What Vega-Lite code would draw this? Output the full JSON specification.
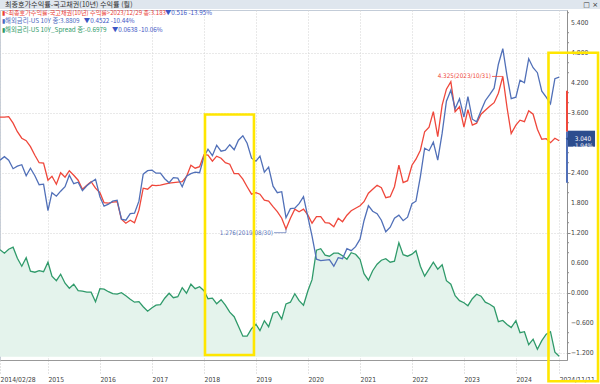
{
  "$schema": "https://vega.github.io/schema/vega-lite/v6.json",
  "width": 567,
  "height": 350,
  "padding": {"left": 0, "top": 10, "right": 33, "bottom": 24},
  "autosize": {"type": "none"},
  "background": "white",
  "config": {
    "view": {"stroke": "#c3ccd8", "strokeWidth": 1},
    "font": "Noto Sans CJK KR",
    "axis": {"labelOverlap": false, "labelBound": false, "labelFlush": false, "title": null}
  },
  "datasets": {
    "series": [
      {"d":"2014/02/28","kr":3.51,"us":2.65,"sp":0.86},
      {"d":"2014/03/31","kr":3.51,"us":2.72,"sp":0.79},
      {"d":"2014/04/30","kr":3.52,"us":2.65,"sp":0.87},
      {"d":"2014/05/31","kr":3.39,"us":2.48,"sp":0.91},
      {"d":"2014/06/30","kr":3.22,"us":2.53,"sp":0.69},
      {"d":"2014/07/31","kr":3.09,"us":2.56,"sp":0.53},
      {"d":"2014/08/31","kr":3.04,"us":2.34,"sp":0.70},
      {"d":"2014/09/30","kr":2.92,"us":2.49,"sp":0.43},
      {"d":"2014/10/31","kr":2.75,"us":2.34,"sp":0.41},
      {"d":"2014/11/30","kr":2.60,"us":2.16,"sp":0.44},
      {"d":"2014/12/31","kr":2.59,"us":2.17,"sp":0.42},
      {"d":"2015/01/31","kr":2.25,"us":1.64,"sp":0.61},
      {"d":"2015/02/28","kr":2.33,"us":2.00,"sp":0.33},
      {"d":"2015/03/31","kr":2.17,"us":1.93,"sp":0.24},
      {"d":"2015/04/30","kr":2.40,"us":2.03,"sp":0.37},
      {"d":"2015/05/31","kr":2.31,"us":2.12,"sp":0.19},
      {"d":"2015/06/30","kr":2.44,"us":2.35,"sp":0.09},
      {"d":"2015/07/31","kr":2.35,"us":2.18,"sp":0.17},
      {"d":"2015/08/31","kr":2.25,"us":2.21,"sp":0.04},
      {"d":"2015/09/30","kr":2.07,"us":2.04,"sp":0.03},
      {"d":"2015/10/31","kr":2.15,"us":2.14,"sp":0.01},
      {"d":"2015/11/30","kr":2.22,"us":2.21,"sp":0.01},
      {"d":"2015/12/31","kr":2.09,"us":2.27,"sp":-0.18},
      {"d":"2016/01/31","kr":2.00,"us":1.92,"sp":0.08},
      {"d":"2016/02/29","kr":1.80,"us":1.73,"sp":0.07},
      {"d":"2016/03/31","kr":1.79,"us":1.77,"sp":0.02},
      {"d":"2016/04/30","kr":1.81,"us":1.83,"sp":-0.02},
      {"d":"2016/05/31","kr":1.82,"us":1.85,"sp":-0.03},
      {"d":"2016/06/30","kr":1.47,"us":1.47,"sp":0.00},
      {"d":"2016/07/31","kr":1.39,"us":1.45,"sp":-0.06},
      {"d":"2016/08/31","kr":1.45,"us":1.58,"sp":-0.13},
      {"d":"2016/09/30","kr":1.40,"us":1.59,"sp":-0.19},
      {"d":"2016/10/31","kr":1.65,"us":1.83,"sp":-0.18},
      {"d":"2016/11/30","kr":2.09,"us":2.37,"sp":-0.28},
      {"d":"2016/12/31","kr":2.07,"us":2.44,"sp":-0.37},
      {"d":"2017/01/31","kr":2.15,"us":2.45,"sp":-0.30},
      {"d":"2017/02/28","kr":2.14,"us":2.39,"sp":-0.25},
      {"d":"2017/03/31","kr":2.15,"us":2.39,"sp":-0.24},
      {"d":"2017/04/30","kr":2.17,"us":2.28,"sp":-0.11},
      {"d":"2017/05/31","kr":2.19,"us":2.20,"sp":-0.01},
      {"d":"2017/06/30","kr":2.20,"us":2.30,"sp":-0.10},
      {"d":"2017/07/31","kr":2.21,"us":2.29,"sp":-0.08},
      {"d":"2017/08/31","kr":2.22,"us":2.12,"sp":0.10},
      {"d":"2017/09/30","kr":2.32,"us":2.33,"sp":-0.01},
      {"d":"2017/10/31","kr":2.55,"us":2.38,"sp":0.17},
      {"d":"2017/11/30","kr":2.49,"us":2.41,"sp":0.08},
      {"d":"2017/12/31","kr":2.52,"us":2.40,"sp":0.12},
      {"d":"2018/01/31","kr":2.76,"us":2.72,"sp":0.04},
      {"d":"2018/02/28","kr":2.75,"us":2.87,"sp":-0.12},
      {"d":"2018/03/31","kr":2.63,"us":2.74,"sp":-0.11},
      {"d":"2018/04/30","kr":2.73,"us":2.95,"sp":-0.22},
      {"d":"2018/05/31","kr":2.69,"us":2.83,"sp":-0.14},
      {"d":"2018/06/30","kr":2.60,"us":2.85,"sp":-0.25},
      {"d":"2018/07/31","kr":2.57,"us":2.96,"sp":-0.39},
      {"d":"2018/08/31","kr":2.38,"us":2.86,"sp":-0.48},
      {"d":"2018/09/30","kr":2.38,"us":3.05,"sp":-0.67},
      {"d":"2018/10/31","kr":2.27,"us":3.14,"sp":-0.87},
      {"d":"2018/11/30","kr":2.12,"us":2.99,"sp":-0.87},
      {"d":"2018/12/31","kr":1.97,"us":2.69,"sp":-0.72},
      {"d":"2019/01/31","kr":2.00,"us":2.63,"sp":-0.63},
      {"d":"2019/02/28","kr":1.97,"us":2.73,"sp":-0.76},
      {"d":"2019/03/31","kr":1.85,"us":2.41,"sp":-0.56},
      {"d":"2019/04/30","kr":1.83,"us":2.51,"sp":-0.68},
      {"d":"2019/05/31","kr":1.72,"us":2.13,"sp":-0.41},
      {"d":"2019/06/30","kr":1.62,"us":2.00,"sp":-0.38},
      {"d":"2019/07/31","kr":1.49,"us":2.02,"sp":-0.53},
      {"d":"2019/08/30","kr":1.276,"us":1.50,"sp":-0.224},
      {"d":"2019/09/30","kr":1.49,"us":1.68,"sp":-0.19},
      {"d":"2019/10/31","kr":1.67,"us":1.69,"sp":-0.02},
      {"d":"2019/11/30","kr":1.62,"us":1.78,"sp":-0.16},
      {"d":"2019/12/31","kr":1.67,"us":1.92,"sp":-0.25},
      {"d":"2020/01/31","kr":1.55,"us":1.51,"sp":0.04},
      {"d":"2020/02/29","kr":1.39,"us":1.13,"sp":0.26},
      {"d":"2020/03/31","kr":1.52,"us":0.67,"sp":0.85},
      {"d":"2020/04/30","kr":1.52,"us":0.64,"sp":0.88},
      {"d":"2020/05/31","kr":1.40,"us":0.65,"sp":0.75},
      {"d":"2020/06/30","kr":1.39,"us":0.66,"sp":0.73},
      {"d":"2020/07/31","kr":1.32,"us":0.53,"sp":0.79},
      {"d":"2020/08/31","kr":1.49,"us":0.70,"sp":0.79},
      {"d":"2020/09/30","kr":1.42,"us":0.68,"sp":0.74},
      {"d":"2020/10/31","kr":1.55,"us":0.88,"sp":0.67},
      {"d":"2020/11/30","kr":1.64,"us":0.84,"sp":0.80},
      {"d":"2020/12/31","kr":1.69,"us":0.92,"sp":0.77},
      {"d":"2021/01/31","kr":1.74,"us":1.07,"sp":0.67},
      {"d":"2021/02/28","kr":1.82,"us":1.44,"sp":0.38},
      {"d":"2021/03/31","kr":1.99,"us":1.74,"sp":0.25},
      {"d":"2021/04/30","kr":2.07,"us":1.63,"sp":0.44},
      {"d":"2021/05/31","kr":2.15,"us":1.58,"sp":0.57},
      {"d":"2021/06/30","kr":2.10,"us":1.45,"sp":0.65},
      {"d":"2021/07/31","kr":1.90,"us":1.22,"sp":0.68},
      {"d":"2021/08/31","kr":1.92,"us":1.31,"sp":0.61},
      {"d":"2021/09/30","kr":2.12,"us":1.49,"sp":0.63},
      {"d":"2021/10/31","kr":2.55,"us":1.55,"sp":1.00},
      {"d":"2021/11/30","kr":2.20,"us":1.44,"sp":0.76},
      {"d":"2021/12/31","kr":2.24,"us":1.51,"sp":0.73},
      {"d":"2022/01/31","kr":2.55,"us":1.78,"sp":0.77},
      {"d":"2022/02/28","kr":2.67,"us":1.83,"sp":0.84},
      {"d":"2022/03/31","kr":2.85,"us":2.32,"sp":0.53},
      {"d":"2022/04/30","kr":3.22,"us":2.89,"sp":0.33},
      {"d":"2022/05/31","kr":3.31,"us":2.84,"sp":0.47},
      {"d":"2022/06/30","kr":3.62,"us":3.01,"sp":0.61},
      {"d":"2022/07/31","kr":3.12,"us":2.65,"sp":0.47},
      {"d":"2022/08/31","kr":3.75,"us":3.19,"sp":0.56},
      {"d":"2022/09/30","kr":4.07,"us":3.83,"sp":0.24},
      {"d":"2022/10/31","kr":4.22,"us":4.05,"sp":0.17},
      {"d":"2022/11/30","kr":3.62,"us":3.68,"sp":-0.06},
      {"d":"2022/12/31","kr":3.72,"us":3.88,"sp":-0.16},
      {"d":"2023/01/31","kr":3.31,"us":3.51,"sp":-0.20},
      {"d":"2023/02/28","kr":3.66,"us":3.92,"sp":-0.26},
      {"d":"2023/03/31","kr":3.35,"us":3.47,"sp":-0.12},
      {"d":"2023/04/30","kr":3.39,"us":3.42,"sp":-0.03},
      {"d":"2023/05/31","kr":3.57,"us":3.64,"sp":-0.07},
      {"d":"2023/06/30","kr":3.65,"us":3.84,"sp":-0.19},
      {"d":"2023/07/31","kr":3.73,"us":3.96,"sp":-0.23},
      {"d":"2023/08/31","kr":3.80,"us":4.09,"sp":-0.29},
      {"d":"2023/09/30","kr":3.99,"us":4.57,"sp":-0.58},
      {"d":"2023/10/31","kr":4.325,"us":4.88,"sp":-0.555},
      {"d":"2023/11/30","kr":3.699,"us":4.3331,"sp":-0.6341},
      {"d":"2023/12/29","kr":3.183,"us":3.8809,"sp":-0.6979},
      {"d":"2024/01/31","kr":3.35,"us":3.91,"sp":-0.56},
      {"d":"2024/02/29","kr":3.45,"us":4.25,"sp":-0.80},
      {"d":"2024/03/31","kr":3.42,"us":4.20,"sp":-0.78},
      {"d":"2024/04/30","kr":3.64,"us":4.68,"sp":-1.04},
      {"d":"2024/05/31","kr":3.57,"us":4.50,"sp":-0.93},
      {"d":"2024/06/30","kr":3.27,"us":4.40,"sp":-1.13},
      {"d":"2024/07/31","kr":3.07,"us":4.03,"sp":-0.96},
      {"d":"2024/08/31","kr":3.08,"us":3.91,"sp":-0.83},
      {"d":"2024/09/30","kr":3.00,"us":3.78,"sp":-0.78},
      {"d":"2024/10/31","kr":3.09,"us":4.28,"sp":-1.19},
      {"d":"2024/11/30","kr":3.04,"us":4.31,"sp":-1.27}
    ]
  },
  "layer": [
    {
      "data": {"name": "series"},
      "mark": {"type": "area", "color": "#e4f3ec"},
      "encoding": {
        "x": {
          "field": "d", "type": "temporal", "title": null,
          "scale": {"domain": [{"year": 2014, "month": 2, "date": 28}, {"year": 2025, "month": 1, "date": 24}]},
          "axis": {
            "values": [
              {"year": 2014, "month": 2, "date": 28},
              {"year": 2015, "month": 1, "date": 31},
              {"year": 2016, "month": 1, "date": 31},
              {"year": 2017, "month": 1, "date": 31},
              {"year": 2018, "month": 1, "date": 31},
              {"year": 2019, "month": 1, "date": 31},
              {"year": 2020, "month": 1, "date": 31},
              {"year": 2021, "month": 1, "date": 31},
              {"year": 2022, "month": 1, "date": 31},
              {"year": 2023, "month": 1, "date": 31},
              {"year": 2024, "month": 1, "date": 31},
              {"year": 2024, "month": 11, "date": 30}
            ],
            "labelExpr": "datum.value < datetime(2014, 5, 1) ? '2014/02/28' : (datum.value > datetime(2024, 5, 1) ? '2024/11/11' : timeFormat(datum.value, '%Y'))",
            "labelAlign": "left",
            "labelBaseline": "top",
            "labelFlush": false,
            "labelOverlap": false,
            "labelBound": false,
            "labelOffset": 0,
            "labelPadding": 2,
            "labelFont": "Liberation Sans Narrow, DejaVu Sans Condensed, sans-serif",
            "labelFontSize": 6.8,
            "labelColor": "#444444",
            "tickSize": 14,
            "tickDash": [1, 2],
            "tickColor": "#c8c8c8",
            "grid": true,
            "gridDash": [1, 2],
            "gridColor": "#d2d2d2",
            "domainColor": "#999999"
          }
        },
        "y": {
          "field": "sp", "type": "quantitative", "title": null,
          "scale": {"domain": [-1.346, 5.654], "nice": false, "zero": false},
          "axis": {
            "orient": "right",
            "values": [-1.2, -0.6, 0, 0.6, 1.2, 1.8, 2.4, 3.0, 3.6, 4.2, 4.8, 5.4],
            "labels": false,
            "tickSize": 3,
            "gridDash": [1, 2],
            "gridColor": "#d2d2d2",
            "domainColor": "#8f8f8f",
            "tickColor": "#8f8f8f",
            "grid": true
          }
        },
        "y2": {"datum": -1.28}
      }
    },
    {"data": {"name": "series"}, "mark": {"type": "line", "color": "#2f9a6a", "strokeWidth": 1.3}, "encoding": {"x": {"field": "d", "type": "temporal"}, "y": {"field": "sp", "type": "quantitative"}}},
    {"data": {"name": "series"}, "mark": {"type": "line", "color": "#ef473b", "strokeWidth": 1.3}, "encoding": {"x": {"field": "d", "type": "temporal"}, "y": {"field": "kr", "type": "quantitative"}}},
    {"data": {"name": "series"}, "mark": {"type": "line", "color": "#5170b8", "strokeWidth": 1.3}, "encoding": {"x": {"field": "d", "type": "temporal"}, "y": {"field": "us", "type": "quantitative"}}},
    {
      "data": {"values": [
        {"t": "2025/01/24", "t2": "2025/02/07", "v": -1.0}, {"t": "2025/01/24", "t2": "2025/02/07", "v": -0.8},
        {"t": "2025/01/24", "t2": "2025/02/07", "v": -0.4}, {"t": "2025/01/24", "t2": "2025/02/07", "v": -0.2},
        {"t": "2025/01/24", "t2": "2025/02/07", "v": 0.2}, {"t": "2025/01/24", "t2": "2025/02/07", "v": 0.4},
        {"t": "2025/01/24", "t2": "2025/02/07", "v": 0.8}, {"t": "2025/01/24", "t2": "2025/02/07", "v": 1.0},
        {"t": "2025/01/24", "t2": "2025/02/07", "v": 1.4}, {"t": "2025/01/24", "t2": "2025/02/07", "v": 1.6},
        {"t": "2025/01/24", "t2": "2025/02/07", "v": 2.0}, {"t": "2025/01/24", "t2": "2025/02/07", "v": 2.2},
        {"t": "2025/01/24", "t2": "2025/02/07", "v": 2.6}, {"t": "2025/01/24", "t2": "2025/02/07", "v": 2.8},
        {"t": "2025/01/24", "t2": "2025/02/07", "v": 3.2}, {"t": "2025/01/24", "t2": "2025/02/07", "v": 3.4},
        {"t": "2025/01/24", "t2": "2025/02/07", "v": 3.8}, {"t": "2025/01/24", "t2": "2025/02/07", "v": 4.0},
        {"t": "2025/01/24", "t2": "2025/02/07", "v": 4.4}, {"t": "2025/01/24", "t2": "2025/02/07", "v": 4.6},
        {"t": "2025/01/24", "t2": "2025/02/07", "v": 5.0}, {"t": "2025/01/24", "t2": "2025/02/07", "v": 5.2},
        {"t": "2025/01/24", "t2": "2025/02/07", "v": 5.6}
      ]},
      "mark": {"type": "rule", "color": "#8f8f8f", "strokeWidth": 1},
      "encoding": {"x": {"field": "t", "type": "temporal"}, "x2": {"field": "t2"}, "y": {"field": "v", "type": "quantitative"}}
    },
    {
      "data": {"values": [
        {"t": "2025/01/24", "v": -1.2}, {"t": "2025/01/24", "v": -0.6}, {"t": "2025/01/24", "v": 0},
        {"t": "2025/01/24", "v": 0.6}, {"t": "2025/01/24", "v": 1.2}, {"t": "2025/01/24", "v": 1.8},
        {"t": "2025/01/24", "v": 2.4}, {"t": "2025/01/24", "v": 3.6},
        {"t": "2025/01/24", "v": 4.2}, {"t": "2025/01/24", "v": 4.8}, {"t": "2025/01/24", "v": 5.4}
      ]},
      "mark": {"type": "text", "align": "left", "baseline": "middle", "dx": 4, "fontSize": 6.8, "color": "#444444", "font": "Liberation Sans Narrow, DejaVu Sans Condensed, sans-serif"},
      "encoding": {"x": {"field": "t", "type": "temporal"}, "y": {"field": "v", "type": "quantitative"}, "text": {"field": "v", "type": "quantitative", "format": ".3f"}}
    },
    {
      "data": {"values": [{"t": "2014/02/28", "t2": "2025/10/31", "v": 5.854, "v2": 5.674}]},
      "mark": {"type": "rect", "color": "#dfe6ee"},
      "encoding": {"x": {"field": "t", "type": "temporal"}, "x2": {"field": "t2"}, "y": {"field": "v", "type": "quantitative"}, "y2": {"field": "v2"}}
    },
    {
      "data": {"values": [{"t": "2014/02/28", "v": 5.756, "label": "최종호가수익률-국고채권(10년) 수익률 (월)"}]},
      "mark": {"type": "text", "align": "left", "baseline": "middle", "dx": 5, "fontSize": 7.1, "color": "#333333"},
      "encoding": {"x": {"field": "t", "type": "temporal"}, "y": {"field": "v", "type": "quantitative"}, "text": {"field": "label"}}
    },
    {
      "data": {"values": [{"t": "2025/08/30", "v": 5.756, "label": "□ ×"}]},
      "mark": {"type": "text", "align": "right", "baseline": "middle", "fontSize": 7, "color": "#333333", "font": "DejaVu Sans"},
      "encoding": {"x": {"field": "t", "type": "temporal"}, "y": {"field": "v", "type": "quantitative"}, "text": {"field": "label"}}
    },
    {
      "data": {"values": [{"t": "2014/02/28", "v": 5.594, "label": "▮<최종호가수익률-국고채권(10년) 수익률>2023/12/29 종:3.183"}]},
      "mark": {"type": "text", "align": "left", "baseline": "middle", "dx": 2, "fontSize": 6.1, "color": "#ea4036"},
      "encoding": {"x": {"field": "t", "type": "temporal"}, "y": {"field": "v", "type": "quantitative"}, "text": {"field": "label"}}
    },
    {
      "data": {"values": [{"t": "2017/05/02", "v": 5.594, "label": "▼0.516  -13.95%"}]},
      "mark": {"type": "text", "align": "left", "baseline": "middle", "fontSize": 6.3, "color": "#3b55c4"},
      "encoding": {"x": {"field": "t", "type": "temporal"}, "y": {"field": "v", "type": "quantitative"}, "text": {"field": "label"}}
    },
    {
      "data": {"values": [{"t": "2014/02/28", "v": 5.434, "label": "▮해외금리-US 10Y 종:3.8809"}]},
      "mark": {"type": "text", "align": "left", "baseline": "middle", "dx": 2, "fontSize": 6.4, "color": "#4a68c0"},
      "encoding": {"x": {"field": "t", "type": "temporal"}, "y": {"field": "v", "type": "quantitative"}, "text": {"field": "label"}}
    },
    {
      "data": {"values": [{"t": "2015/10/10", "v": 5.434, "label": "▼0.4522  -10.44%"}]},
      "mark": {"type": "text", "align": "left", "baseline": "middle", "fontSize": 6.3, "color": "#3b55c4"},
      "encoding": {"x": {"field": "t", "type": "temporal"}, "y": {"field": "v", "type": "quantitative"}, "text": {"field": "label"}}
    },
    {
      "data": {"values": [{"t": "2014/02/28", "v": 5.264, "label": "▮해외금리-US 10Y_Spread 종:-0.6979"}]},
      "mark": {"type": "text", "align": "left", "baseline": "middle", "dx": 2, "fontSize": 6.4, "color": "#2e9a68"},
      "encoding": {"x": {"field": "t", "type": "temporal"}, "y": {"field": "v", "type": "quantitative"}, "text": {"field": "label"}}
    },
    {
      "data": {"values": [{"t": "2016/04/24", "v": 5.264, "label": "▼0.0638  -10.06%"}]},
      "mark": {"type": "text", "align": "left", "baseline": "middle", "fontSize": 6.3, "color": "#3b55c4"},
      "encoding": {"x": {"field": "t", "type": "temporal"}, "y": {"field": "v", "type": "quantitative"}, "text": {"field": "label"}}
    },
    {
      "data": {"values": [{"t": "2023/08/16", "t2": "2023/10/31", "v": 4.325}]},
      "mark": {"type": "rule", "color": "#ef473b", "strokeWidth": 0.8},
      "encoding": {"x": {"field": "t", "type": "temporal"}, "x2": {"field": "t2"}, "y": {"field": "v", "type": "quantitative"}}
    },
    {
      "data": {"values": [{"t": "2023/08/16", "v": 4.325, "label": "4.325(2023/10/31)"}]},
      "mark": {"type": "text", "align": "right", "baseline": "middle", "dx": -1, "fontSize": 6.3, "color": "#ef473b", "font": "Liberation Sans Narrow, DejaVu Sans Condensed, sans-serif"},
      "encoding": {"x": {"field": "t", "type": "temporal"}, "y": {"field": "v", "type": "quantitative"}, "text": {"field": "label"}}
    },
    {
      "data": {"values": [{"t": "2019/06/07", "t2": "2019/08/30", "v": 1.2}]},
      "mark": {"type": "rule", "color": "#6a80bc", "strokeWidth": 0.8},
      "encoding": {"x": {"field": "t", "type": "temporal"}, "x2": {"field": "t2"}, "y": {"field": "v", "type": "quantitative"}}
    },
    {
      "data": {"values": [{"t": "2019/08/30", "v": 1.2, "v2": 1.276}]},
      "mark": {"type": "rule", "color": "#6a80bc", "strokeWidth": 0.8},
      "encoding": {"x": {"field": "t", "type": "temporal"}, "y": {"field": "v", "type": "quantitative"}, "y2": {"field": "v2"}}
    },
    {
      "data": {"values": [{"t": "2019/06/07", "v": 1.2, "label": "1.276(2019/08/30)"}]},
      "mark": {"type": "text", "align": "right", "baseline": "middle", "dx": -1, "fontSize": 6.3, "color": "#5a74bb", "font": "Liberation Sans Narrow, DejaVu Sans Condensed, sans-serif"},
      "encoding": {"x": {"field": "t", "type": "temporal"}, "y": {"field": "v", "type": "quantitative"}, "text": {"field": "label"}}
    },
    {
      "data": {"values": [{"t": "2025/01/24", "v": 4.04, "v2": 3.22}]},
      "mark": {"type": "rule", "color": "#ef473b", "strokeWidth": 2},
      "encoding": {"x": {"field": "t", "type": "temporal"}, "y": {"field": "v", "type": "quantitative"}, "y2": {"field": "v2"}}
    },
    {
      "data": {"values": [{"t": "2025/01/24", "v": 3.22, "v2": 2.2}]},
      "mark": {"type": "rule", "color": "#5170b8", "strokeWidth": 2},
      "encoding": {"x": {"field": "t", "type": "temporal"}, "y": {"field": "v", "type": "quantitative"}, "y2": {"field": "v2"}}
    },
    {
      "data": {"values": [{"t": "2025/01/31", "t2": "2025/08/09", "v": 3.24, "v2": 2.92}]},
      "mark": {"type": "rect", "color": "#2c4d8e"},
      "encoding": {"x": {"field": "t", "type": "temporal"}, "x2": {"field": "t2"}, "y": {"field": "v", "type": "quantitative"}, "y2": {"field": "v2"}}
    },
    {
      "data": {"values": [{"t": "2025/01/31", "v": 3.08}]},
      "mark": {"type": "point", "shape": "triangle-left", "filled": true, "size": 30, "color": "#2c4d8e", "opacity": 1},
      "encoding": {"x": {"field": "t", "type": "temporal"}, "y": {"field": "v", "type": "quantitative"}}
    },
    {
      "data": {"values": [{"t": "2025/05/16", "v": 3.08, "label": "3.040\n-1.94%"}]},
      "mark": {"type": "text", "align": "center", "baseline": "middle", "fontSize": 6.3, "color": "white", "lineBreak": "\n", "lineHeight": 7, "font": "Liberation Sans Narrow, DejaVu Sans Condensed, sans-serif"},
      "encoding": {"x": {"field": "t", "type": "temporal"}, "y": {"field": "v", "type": "quantitative"}, "text": {"field": "label"}}
    },
    {
      "data": {"values": [{"t": "2018/02/07", "t2": "2019/01/17", "v": 3.564, "v2": -1.246}, {"t": "2024/09/16", "t2": "2025/08/30", "v": 4.798, "v2": -1.772}]},
      "mark": {"type": "rect", "filled": false, "color": "#ffe600", "strokeWidth": 2.6},
      "encoding": {"x": {"field": "t", "type": "temporal"}, "x2": {"field": "t2"}, "y": {"field": "v", "type": "quantitative"}, "y2": {"field": "v2"}}
    }
  ]
}
